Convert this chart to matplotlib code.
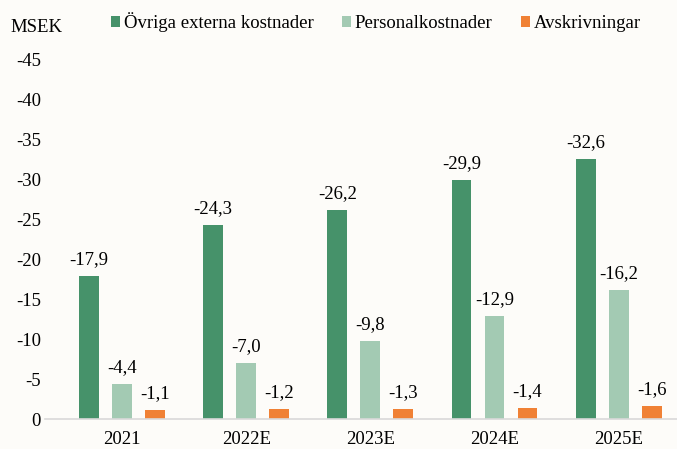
import numpy as np
import matplotlib.pyplot as plt

years = ["2021", "2022E", "2023E", "2024E", "2025E"]
ovriga = [17.9, 24.3, 26.2, 29.9, 32.6]
personal = [4.4, 7.0, 9.8, 12.9, 16.2]
avskr = [1.1, 1.2, 1.3, 1.4, 1.6]
series_names = ["Övriga externa kostnader", "Personalkostnader", "Avskrivningar"]
colors = ["#46926A", "#A3CAB3", "#F08135"]

plt.rcParams['font.family'] = ['Liberation Serif', 'DejaVu Serif']
bg = "#FDFCF9"
fs = 13.5

fig = plt.figure(figsize=(6.77, 4.49), dpi=100, facecolor=bg)
ax = fig.add_axes([45 / 677, 1 - 419 / 449, 1 - 45 / 677, (419 - 60) / 449])
ax.set_facecolor(bg)

x = np.arange(len(years))
w = 0.16
off = 0.266
for i, (vals, name, c) in enumerate(zip([ovriga, personal, avskr], series_names, colors)):
    pos = x + (i - 1) * off
    ax.bar(pos, vals, width=w, color=c, label=name)
    for px, v in zip(pos, vals):
        ax.text(px, v + 1.0, "-" + f"{v:.1f}".replace(".", ","), ha="center", va="bottom", fontsize=fs)

ax.set_ylim(0, 45)
ax.set_xlim(-0.62, 4.47)
ax.set_yticks(range(0, 50, 5))
ax.set_yticklabels(["0"] + [f"-{t}" for t in range(5, 50, 5)], fontsize=fs)
ax.set_xticks(x)
ax.set_xticklabels(years, fontsize=fs)
ax.tick_params(length=0)
ax.tick_params(axis="y", pad=3)
ax.tick_params(axis="x", pad=9)
for s in ["top", "right", "left"]:
    ax.spines[s].set_visible(False)
ax.spines["bottom"].set_color("#D9D9D9")
ax.spines["bottom"].set_linewidth(1.2)

fig.text(10 / 677, 1 - 28 / 449, "MSEK", fontsize=fs, va="center", ha="left")
ax.legend(loc="center", bbox_to_anchor=(0.555, 1 - 22 / 449), bbox_transform=fig.transFigure,
          ncol=3, frameon=False, fontsize=fs, handlelength=0.5, handleheight=0.5,
          handletextpad=0.2, columnspacing=1.5)

fig.savefig("out.png", dpi=100, facecolor=bg)
